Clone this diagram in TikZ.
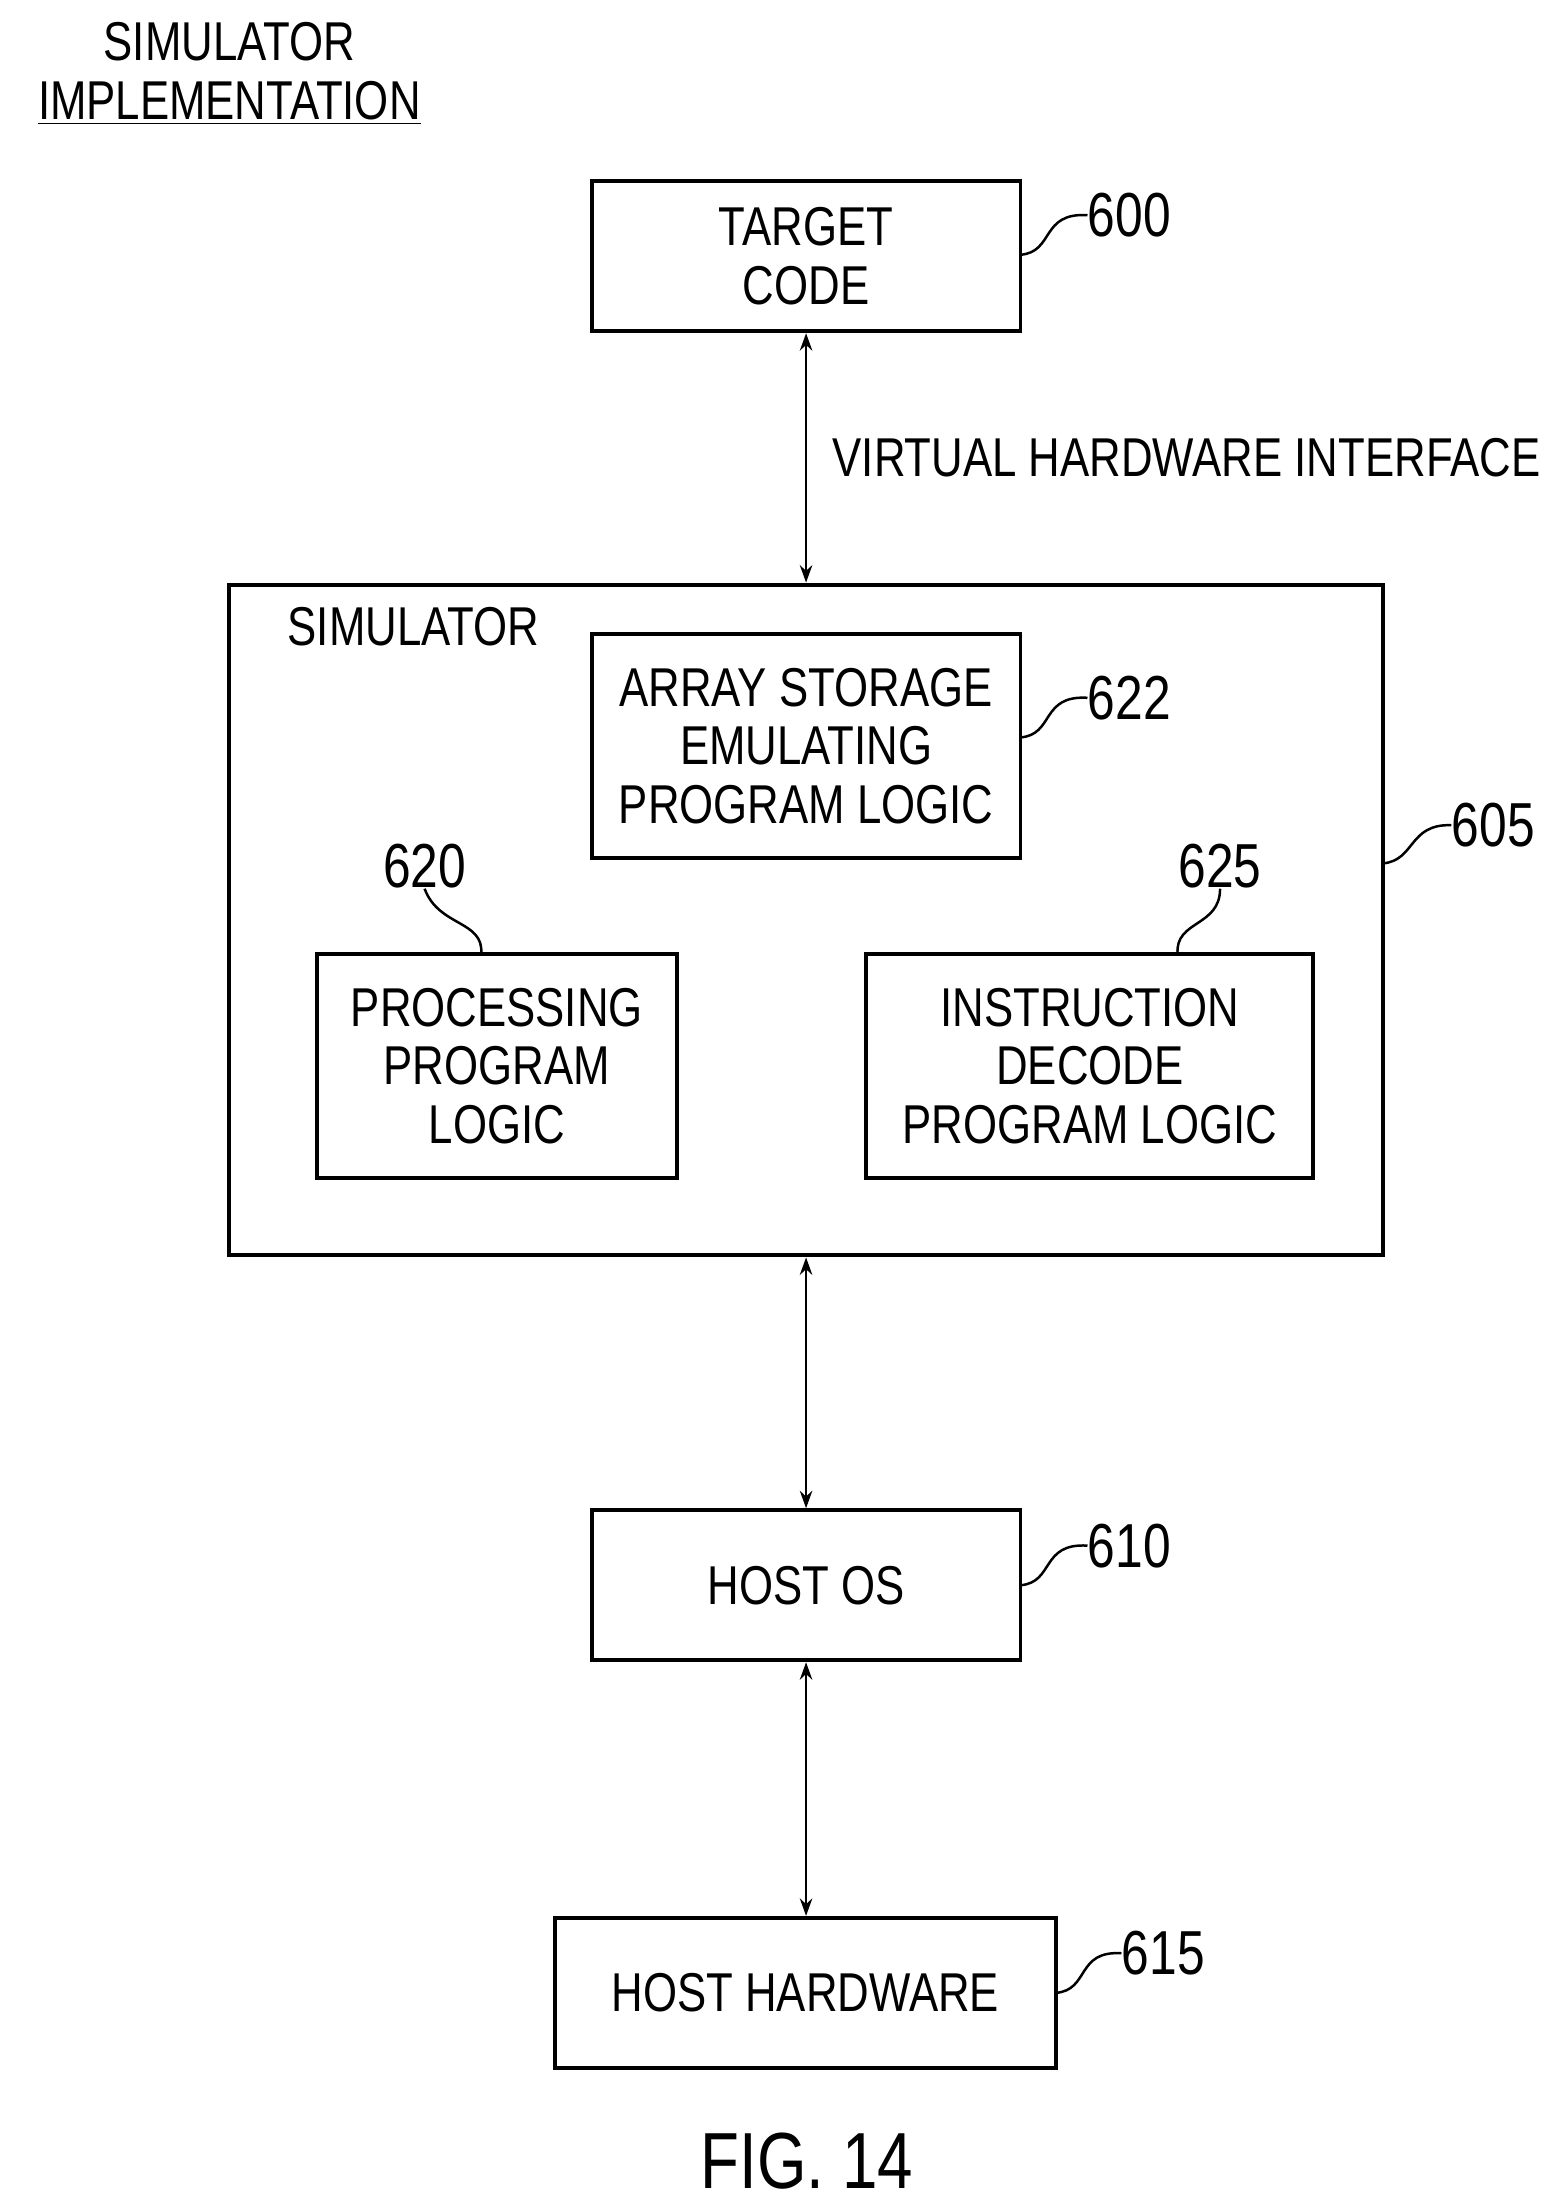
\documentclass[tikz,border=0pt]{standalone}
\usetikzlibrary{arrows.meta}
\usepackage{fontspec}
\setmainfont{Liberation Sans}[FakeStretch=0.8]
\begin{document}
\begin{tikzpicture}[x=0.02cm,y=-0.02cm,
  box/.style={draw,line width=1.6pt,inner sep=0pt,align=center,font=\fontsize{22}{23.5}\selectfont},
  txt/.style={font=\fontsize{22}{23.5}\selectfont,inner sep=0pt},
  num/.style={font=\fontsize{25}{28}\selectfont,inner sep=0pt},
  arr/.style={<->,>={Stealth[length=7pt,width=5pt]},line width=1pt},
  lead/.style={line width=1pt}]
\useasboundingbox (0,0) rectangle (1100,1560);
\node[txt,align=center] (title) at (162,52) {SIMULATOR\\\underline{IMPLEMENTATION}};
\node[box,minimum width=303*0.02cm,minimum height=106*0.02cm] (tc) at (569.5,181) {TARGET\\CODE};
\node[box,minimum width=815*0.02cm,minimum height=474*0.02cm] (sim) at (569.5,650) {};
\node[txt] (simlab) at (292,443) {SIMULATOR};
\node[box,minimum width=303*0.02cm,minimum height=158*0.02cm] (as) at (569.5,527) {ARRAY STORAGE\\EMULATING\\PROGRAM LOGIC};
\node[box,minimum width=254*0.02cm,minimum height=158*0.02cm] (pp) at (351,753) {PROCESSING\\PROGRAM\\LOGIC};
\node[box,minimum width=316*0.02cm,minimum height=158*0.02cm] (id) at (770,753) {INSTRUCTION\\DECODE\\PROGRAM LOGIC};
\node[box,minimum width=303*0.02cm,minimum height=106*0.02cm] (os) at (569.5,1120) {HOST OS};
\node[box,minimum width=354*0.02cm,minimum height=106*0.02cm] (hw) at (569,1408) {HOST HARDWARE};
\draw[arr] (tc.south) -- (sim.north);
\draw[arr] (sim.south -| os.north) -- (os.north);
\draw[arr] (os.south) -- (os.south |- hw.north);
\node[txt,anchor=west] (vhi) at (588,323) {VIRTUAL HARDWARE INTERFACE};
\node[num] (n600) at (798,152) {600};
\node[num] (n622) at (798,493) {622};
\node[num] (n605) at (1055,583) {605};
\node[num] (n620) at (300,612) {620};
\node[num] (n625) at (862,612) {625};
\node[num] (n610) at (798,1092) {610};
\node[num] (n615) at (822,1380) {615};
\draw[lead] (721,180) .. controls (745,178) and (735,150) .. (n600.west);
\draw[lead] (721,521) .. controls (745,519) and (735,491) .. (n622.west);
\draw[lead] (977,610) .. controls (1000,608) and (995,582) .. (n605.west);
\draw[lead] (340,674) .. controls (342,650) and (310,655) .. (n620.south);
\draw[lead] (832,674) .. controls (830,650) and (862,655) .. (n625.south);
\draw[lead] (721,1120) .. controls (745,1118) and (735,1090) .. (n610.west);
\draw[lead] (746,1408) .. controls (770,1406) and (760,1378) .. (n615.west);
\node[font=\fontsize{32}{36}\selectfont,inner sep=0pt] (fig) at (570,1527) {FIG. 14};
\end{tikzpicture}
\end{document}
